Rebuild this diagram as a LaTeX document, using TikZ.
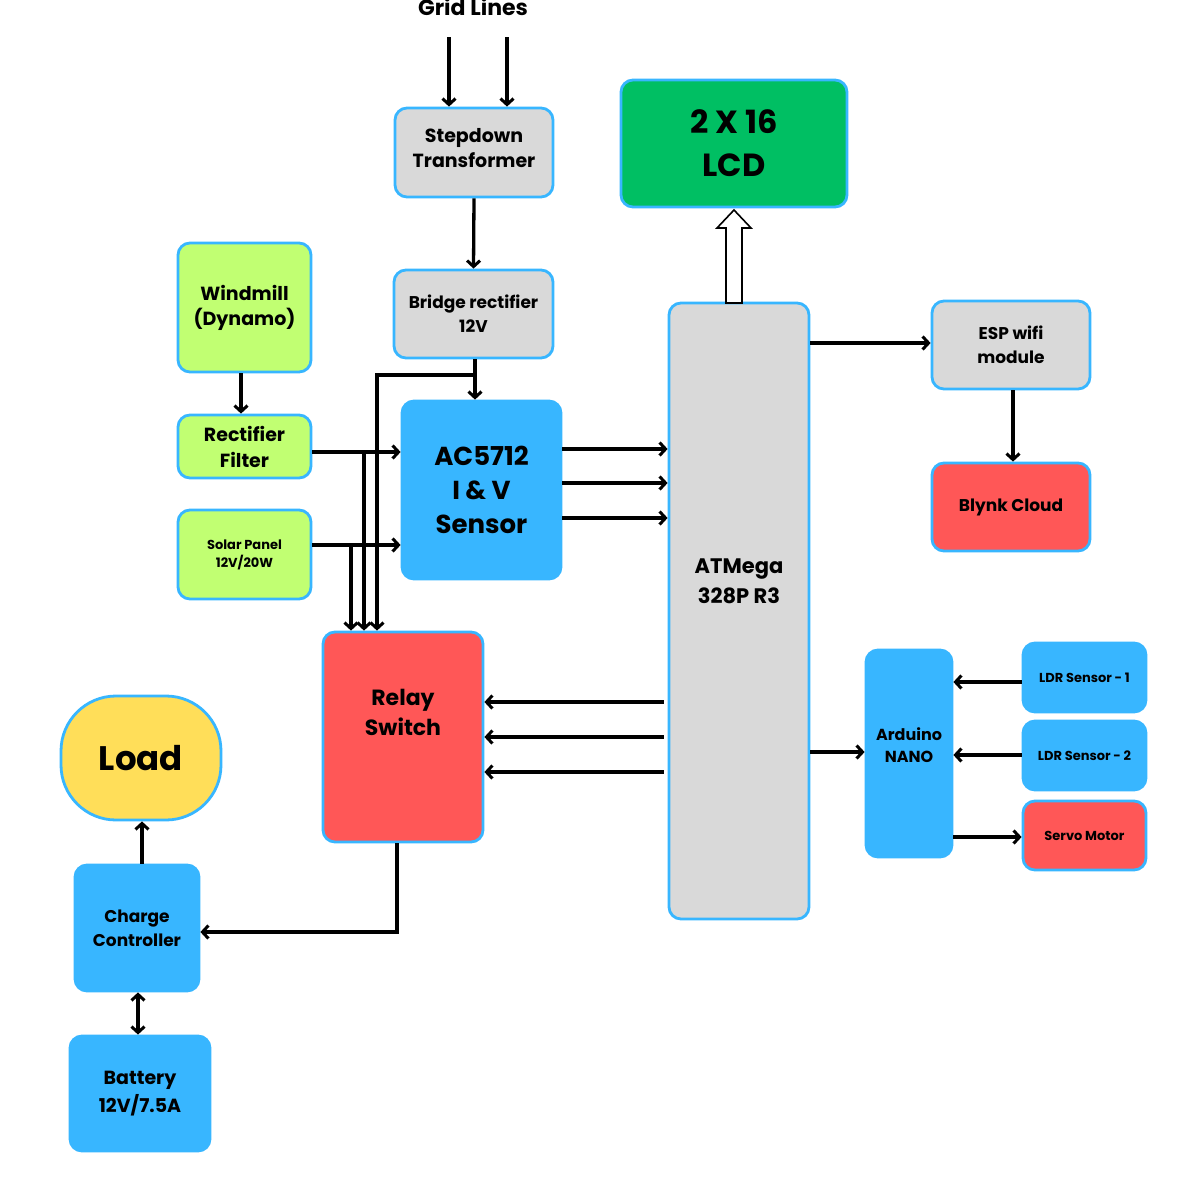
\documentclass[tikz,border=0pt]{standalone}
\usepackage{fontspec}
\setmainfont{Poppins}
\usetikzlibrary{arrows.meta, calc, positioning}
\definecolor{skyblue}{HTML}{38B6FF}
\definecolor{boxgray}{HTML}{D9D9D9}
\definecolor{limegreen}{HTML}{C1FF72}
\definecolor{coral}{HTML}{FF5757}
\definecolor{lcdgreen}{HTML}{00BF63}
\definecolor{loadyellow}{HTML}{FFDE59}
\newcommand{\fs}[2]{\fontsize{#1}{#2}\selectfont\bfseries}
\tikzset{
  blk/.style={rectangle, rounded corners=12pt, line width=2.8pt, draw=skyblue, align=center, inner sep=0pt},
  graybox/.style={blk, fill=boxgray},
  greenbox/.style={blk, fill=limegreen},
  redbox/.style={blk, fill=coral},
  bluebox/.style={blk, fill=skyblue},
  wire/.style={line width=3.3pt, -{Straight Barb[length=6pt,width=13pt,line width=3pt]}},
  dwire/.style={line width=3.3pt, {Straight Barb[length=6pt,width=13pt,line width=3pt]}-{Straight Barb[length=6pt,width=13pt,line width=3pt]}},
}
\begin{document}
\begin{tikzpicture}[x=1pt, y=-1pt]
\useasboundingbox (0,0) rectangle (1181,1181);
\fill[white] (0,0) rectangle (1181,1181);

% supply side
\node[font=\fs{22}{26}] (grid) at (473,7) {Grid Lines};
\node[graybox, minimum width=158, minimum height=89,
  label={[font=\fs{19}{25}, align=center, yshift=4pt]center:Stepdown\\Transformer}] (stepdown) at (474,152.5) {};
\node[graybox, minimum width=159, minimum height=88, font=\fs{17}{24}] (bridge) at (473.5,314) {Bridge rectifier\\12V};
\node[greenbox, minimum width=133, minimum height=129, font=\fs{19}{25}] (windmill) at (244.5,307.5) {Windmill\\(Dynamo)};
\node[greenbox, minimum width=133, minimum height=63, font=\fs{19}{26}] (rectfilter) at (244.5,446.5) {Rectifier\\Filter};
\node[greenbox, minimum width=133, minimum height=89, font=\fs{13}{18}] (solar) at (244.5,554.5) {Solar Panel\\12V/20W};
\node[bluebox, minimum width=159, minimum height=178, font=\fs{26}{34}] (sensor) at (481.5,490) {AC5712\\I \& V\\Sensor};
\node[redbox, minimum width=160, minimum height=210,
  label={[font=\fs{22}{30}, align=center, yshift=25pt]center:Relay\\Switch}] (relay) at (403,737) {};

% controller side
\node[graybox, minimum width=140, minimum height=616,
  label={[font=\fs{21}{30}, align=center, yshift=30pt]center:ATMega\\328P R3}] (atmega) at (739,611) {};
\node[blk, fill=lcdgreen, minimum width=226, minimum height=127, font=\fs{32}{43}] (lcd) at (734,143.5) {2 X 16\\LCD};
\node[graybox, minimum width=158, minimum height=88, font=\fs{17}{24}] (esp) at (1011,345) {ESP wifi\\module};
\node[redbox, minimum width=158, minimum height=88, font=\fs{17}{24}] (blynk) at (1011,507) {Blynk Cloud};
\node[bluebox, minimum width=86, minimum height=207,
  label={[font=\fs{16}{22}, align=center, yshift=8pt]center:Arduino\\NANO}] (arduino) at (909,753.5) {};
\node[bluebox, minimum width=123, minimum height=69, font=\fs{13}{18}] (ldr1) at (1084.5,677.5) {LDR Sensor - 1};
\node[bluebox, minimum width=123, minimum height=69, font=\fs{13}{18}] (ldr2) at (1084.5,755.5) {LDR Sensor - 2};
\node[redbox, minimum width=123, minimum height=69, font=\fs{13}{18}] (servo) at (1084.5,835.5) {Servo Motor};

% storage side
\node[blk, fill=loadyellow, rounded corners=55pt, minimum width=160, minimum height=124, font=\fs{34}{40}] (load) at (141,758) {Load};
\node[bluebox, minimum width=124, minimum height=126, font=\fs{17}{24}] (charge) at (137,928) {Charge\\Controller};
\node[bluebox, minimum width=140, minimum height=115, font=\fs{19}{28}] (battery) at (140,1093.5) {Battery\\12V/7.5A};

% connectors
\coordinate (g1) at (449,37);
\coordinate (g2) at (507,37);
\draw[wire] (g1) -- (g1 |- stepdown.north);
\draw[wire] (g2) -- (g2 |- stepdown.north);
\draw[wire] (stepdown.south) -- (bridge.north);
\draw[wire] (windmill.south -| 241,0) -- (rectfilter.north -| 241,0);

\coordinate (tapC) at (475,375);
\draw[wire] (bridge.south -| tapC) -- (tapC |- sensor.north);
\draw[wire] (tapC) -| ($(relay.north)+(-26,0)$);
\coordinate (tapA) at (364,452);
\coordinate (tapB) at (351,545);
\draw[wire] (rectfilter.east |- tapA) -- (sensor.west |- tapA);
\draw[wire] (solar.east |- tapB) -- (sensor.west |- tapB);
\draw[wire] (tapA) -- (tapA |- relay.north);
\draw[wire] (tapB) -- (tapB |- relay.north);

\foreach \y in {449,483,518}
  \draw[wire] (sensor.east |- 0,\y) -- (atmega.west |- 0,\y);
\foreach \y in {702,737,772}
  \draw[wire] ($(atmega.west |- 0,\y)+(-4,0)$) -- (relay.east |- 0,\y);

\draw[line width=1.6pt, fill=white] (726,303) -- (726,228) -- (717,228) -- (734,210) -- (751,228) -- (742,228) -- (742,303) -- cycle;

\draw[wire] (atmega.east |- 0,343) -- (esp.west |- 0,343);
\draw[wire] (esp.south -| 1013,0) -- (blynk.north -| 1013,0);
\draw[wire] (atmega.east |- 0,752) -- (arduino.west |- 0,752);
\draw[wire] (ldr1.west |- 0,682) -- (arduino.east |- 0,682);
\draw[wire] (ldr2.west |- 0,755) -- (arduino.east |- 0,755);
\draw[wire] (arduino.east |- 0,837) -- (servo.west |- 0,837);

\draw[wire] (relay.south -| 397,0) |- (charge.east |- 0,932);
\draw[wire] (charge.north -| 142,0) -- (load.south -| 142,0);
\draw[dwire] (charge.south -| 138,0) -- (battery.north -| 138,0);
\end{tikzpicture}
\end{document}
